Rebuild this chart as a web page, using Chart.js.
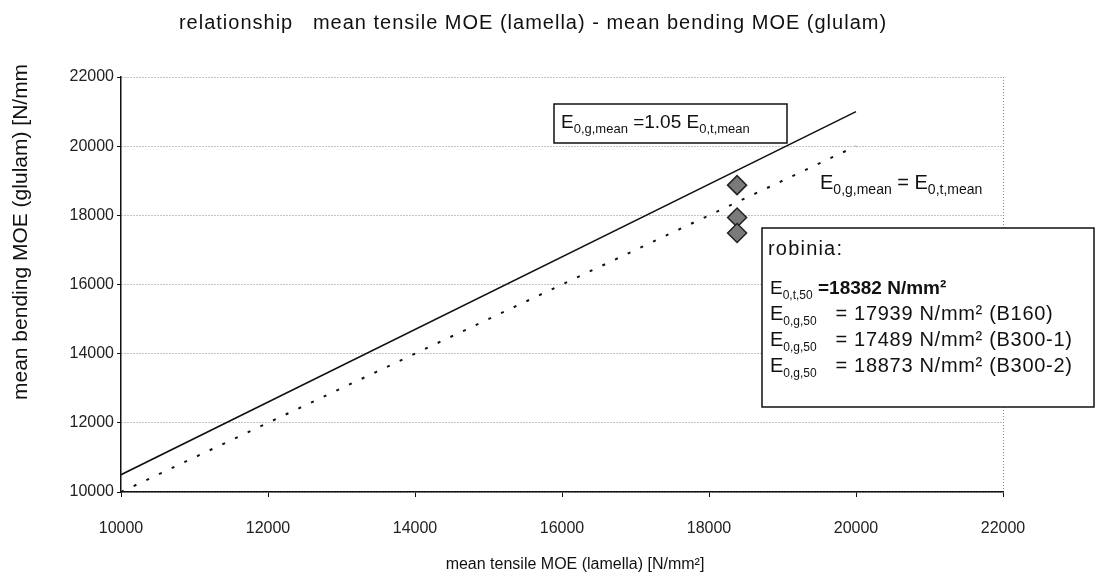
<!DOCTYPE html>
<html>
<head>
<meta charset="utf-8">
<script src="https://cdn.jsdelivr.net/npm/chart.js@4"></script>
<style>
  html, body { margin: 0; padding: 0; background: #fff; }
</style>
</head>
<body>
<canvas id="moeChart" width="1096" height="584"></canvas>
<script>
// axis ranges / ticks
const xTicks = [10000, 12000, 14000, 16000, 18000, 20000, 22000];
const yTicks = [10000, 12000, 14000, 16000, 18000, 20000, 22000];

// reference lines
const lineX = [10000, 20000];
const fitY = [10500, 21000];     // E0,g,mean = 1.05 E0,t,mean
const equalY = [10000, 20000];   // E0,g,mean = E0,t,mean

// robinia glulam results
const robiniaX = [18382, 18382, 18382];
const robiniaY = [17939, 17489, 18873];

const FONT = '"Liberation Sans", Arial, sans-serif';

// draws a run of text pieces, some of them as subscripts
function richText(ctx, parts, x, y) {
    parts.forEach(p => {
        ctx.font = (p.bold ? 'bold ' : '') + p.size + 'px ' + FONT;
        ctx.letterSpacing = (p.ls || 0) + 'px';
        const yy = p.sub ? y + p.sub : y;
        ctx.fillText(p.t, x, yy);
        x += ctx.measureText(p.t).width;
    });
    ctx.letterSpacing = '0px';
    return x;
}

const textPlugin = {
    id: 'texts',
    afterDraw(chart) {
        const ctx = chart.ctx;
        ctx.save();
        ctx.fillStyle = '#111';
        ctx.textBaseline = 'alphabetic';

        // title
        ctx.textAlign = 'center';
        ctx.font = '20px ' + FONT;
        ctx.letterSpacing = '1px';
        ctx.fillText('relationship   mean tensile MOE (lamella) - mean bending MOE (glulam)', 533, 29);
        ctx.letterSpacing = '0px';

        // x axis title
        ctx.font = '16px ' + FONT;
        ctx.fillText('mean tensile MOE (lamella) [N/mm²]', 575, 569);

        // y axis title
        ctx.save();
        ctx.translate(27, 400);
        ctx.rotate(-Math.PI / 2);
        ctx.textAlign = 'left';
        ctx.font = '21px ' + FONT;
        ctx.fillText('mean bending MOE (glulam) [N/mm', 0, 0);
        ctx.restore();

        ctx.textAlign = 'left';
        ctx.strokeStyle = '#111';
        ctx.lineWidth = 1.5;

        // box: 1.05 line
        ctx.fillStyle = '#fff';
        ctx.fillRect(554, 104, 233, 39);
        ctx.strokeRect(554, 104, 233, 39);
        ctx.fillStyle = '#111';
        richText(ctx, [
            {t: 'E', size: 19},
            {t: '0,g,mean', size: 13, sub: 5},
            {t: ' =1.05 E', size: 19},
            {t: '0,t,mean', size: 13, sub: 5}
        ], 561, 128);

        // label: 1:1 line
        richText(ctx, [
            {t: 'E', size: 20},
            {t: '0,g,mean', size: 14, sub: 5},
            {t: ' = E', size: 20},
            {t: '0,t,mean', size: 14, sub: 5}
        ], 820, 189);

        // robinia box
        ctx.fillStyle = '#fff';
        ctx.fillRect(762, 228, 332, 179);
        ctx.strokeRect(762, 228, 332, 179);
        ctx.fillStyle = '#111';
        richText(ctx, [{t: 'robinia:', size: 20, ls: 1.2}], 768, 255);
        richText(ctx, [
            {t: 'E', size: 19},
            {t: '0,t,50', size: 12, sub: 5},
            {t: ' =18382 N/mm²', size: 19, bold: true}
        ], 770, 294);
        const rows = [['17939', 'B160'], ['17489', 'B300-1'], ['18873', 'B300-2']];
        rows.forEach((r, i) => {
            richText(ctx, [
                {t: 'E', size: 20},
                {t: '0,g,50', size: 12, sub: 5},
                {t: '   = ' + r[0] + ' N/mm² (' + r[1] + ')', size: 20, ls: 0.7}
            ], 770, 320 + i * 26);
        });
        ctx.restore();
    }
};

const ctx = document.getElementById('moeChart').getContext('2d');
const moeChart = new Chart(ctx, {
    type: 'scatter',
    data: {
        datasets: [
            {
                label: '1.05',
                data: lineX.map((x, i) => ({x: x, y: fitY[i]})),
                showLine: true,
                borderColor: '#111',
                borderWidth: 1.5,
                pointRadius: 0
            },
            {
                label: '1.00',
                data: lineX.map((x, i) => ({x: x, y: equalY[i]})),
                showLine: true,
                borderColor: '#111',
                borderWidth: 2,
                borderDash: [3, 11],
                pointRadius: 0
            },
            {
                label: 'robinia',
                data: robiniaX.map((x, i) => ({x: x, y: robiniaY[i]})),
                pointStyle: 'rectRot',
                pointRadius: 9.5,
                backgroundColor: '#7a7a7a',
                borderColor: '#222',
                borderWidth: 1.5
            }
        ]
    },
    options: {
        responsive: false,
        animation: false,
        devicePixelRatio: 1,
        layout: { padding: { top: 77, right: 93, left: 0, bottom: 0 } },
        plugins: {
            legend: { display: false },
            title: { display: false },
            tooltip: { enabled: false }
        },
        scales: {
            x: {
                type: 'linear',
                min: xTicks[0],
                max: xTicks[xTicks.length - 1],
                afterBuildTicks: s => { s.ticks = xTicks.map(v => ({value: v})); },
                afterFit: s => { s.height = 92; },
                ticks: {
                    color: '#222',
                    font: { family: FONT, size: 16 },
                    padding: 22,
                    maxRotation: 0,
                    autoSkip: false,
                    callback: v => String(v)
                },
                grid: {
                    color: c => (c.index === xTicks.length - 1 ? '#888' : 'rgba(0,0,0,0)'),
                    tickColor: '#111',
                    tickLength: 5
                },
                border: { color: '#111', width: 1.5, dash: [1, 2] }
            },
            y: {
                type: 'linear',
                min: yTicks[0],
                max: yTicks[yTicks.length - 1],
                afterBuildTicks: s => { s.ticks = yTicks.map(v => ({value: v})); },
                afterFit: s => { s.width = 121; },
                ticks: {
                    color: '#222',
                    font: { family: FONT, size: 16 },
                    padding: 3,
                    callback: v => String(v)
                },
                grid: {
                    color: '#888',
                    tickColor: '#111',
                    tickLength: 4
                },
                border: { color: '#111', width: 1.5, dash: [1, 2] }
            }
        }
    },
    plugins: [textPlugin]
});
</script>
</body>
</html>
